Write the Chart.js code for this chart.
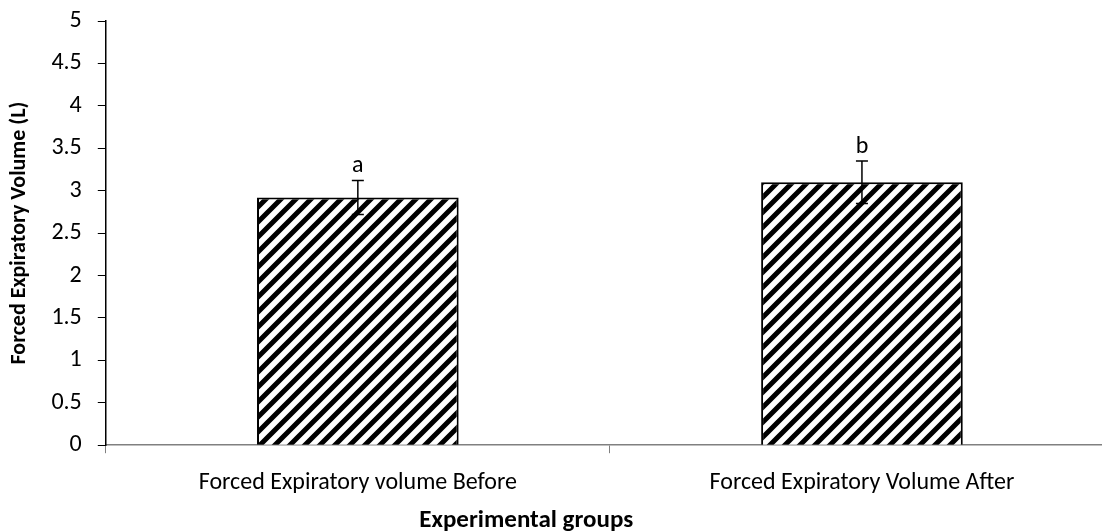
<!DOCTYPE html>
<html>
<head>
<meta charset="utf-8">
<script src="https://cdn.jsdelivr.net/npm/chart.js@4/dist/chart.umd.min.js"></script>
<style>
  html, body { margin: 0; padding: 0; background: #fff; overflow: hidden; }
  #wrap { width: 1114px; height: 531px; }
</style>
</head>
<body>
<div id="wrap"><canvas id="chart"></canvas></div>
<script>
// dados
const categories = ['Forced Expiratory volume Before', 'Forced Expiratory Volume After'];
const meanValues = [2.92, 3.10];
const errorValues = [0.2, 0.25];
const groupLetters = ['a', 'b'];
const yTicks = [0, 0.5, 1, 1.5, 2, 2.5, 3, 3.5, 4, 4.5, 5];
const xTitle = 'Experimental groups';

const FONT = 'Carlito, Calibri, "Liberation Sans Narrow", "Open Sans", sans-serif';

// padrão de listras diagonais
function makeHatch() {
    const size = 15;
    const c = document.createElement('canvas');
    c.width = size; c.height = size;
    const g = c.getContext('2d');
    g.fillStyle = '#fff';
    g.fillRect(0, 0, size, size);
    g.strokeStyle = '#000';
    g.lineWidth = 5;
    g.beginPath();
    g.moveTo(-size, size * 2); g.lineTo(size * 2, -size);
    g.moveTo(-size, size); g.lineTo(size, -size);
    g.moveTo(0, size * 2); g.lineTo(size * 2, 0);
    g.stroke();
    return g.createPattern(c, 'repeat');
}

// barras de erro, letras acima das barras e título do eixo x
const errorBarPlugin = {
    id: 'errorBars',
    afterDatasetsDraw(chart) {
        const ctx = chart.ctx;
        const yScale = chart.scales.y;
        const meta = chart.getDatasetMeta(0);
        ctx.save();
        meta.data.forEach((bar, i) => {
            const top = yScale.getPixelForValue(meanValues[i] + errorValues[i]);
            const bottom = yScale.getPixelForValue(meanValues[i] - errorValues[i]);
            ctx.strokeStyle = '#000';
            ctx.lineWidth = 1.5;
            ctx.beginPath();
            ctx.moveTo(bar.x, top); ctx.lineTo(bar.x, bottom);
            ctx.moveTo(bar.x - 6, top); ctx.lineTo(bar.x + 6, top);
            ctx.moveTo(bar.x - 6, bottom); ctx.lineTo(bar.x + 6, bottom);
            ctx.stroke();
            ctx.fillStyle = '#000';
            ctx.font = '24px ' + FONT;
            ctx.textAlign = 'center';
            ctx.textBaseline = 'bottom';
            ctx.fillText(groupLetters[i], bar.x, top - 2);
        });
        // título do eixo x, centrado na figura como no original
        ctx.font = 'bold 25px ' + FONT;
        ctx.textAlign = 'center';
        ctx.textBaseline = 'middle';
        ctx.fillText(xTitle, chart.chartArea.left + (chart.chartArea.right - chart.chartArea.left) * 0.417, chart.height - 10);
        ctx.restore();
    }
};

document.addEventListener('DOMContentLoaded', () => {
    const ctx = document.getElementById('chart').getContext('2d');
    new Chart(ctx, {
        type: 'bar',
        data: {
            labels: categories,
            datasets: [{
                data: meanValues,
                backgroundColor: makeHatch(),
                borderColor: '#000',
                borderWidth: 2,
                barPercentage: 0.8,
                categoryPercentage: 0.5
            }]
        },
        options: {
            responsive: true,
            maintainAspectRatio: false,
            animation: false,
            layout: { padding: { top: 1, right: 0, left: 2, bottom: 19 } },
            plugins: { legend: { display: false }, tooltip: { enabled: false } },
            scales: {
                x: {
                    grid: { offset: true, drawOnChartArea: false, tickLength: 8, color: '#808080' },
                    border: { color: '#808080', width: 1.5 },
                    ticks: { color: '#000', font: { family: FONT, size: 24 }, padding: 15 }
                },
                y: {
                    min: 0,
                    max: 5,
                    afterBuildTicks: axis => { axis.ticks = yTicks.map(v => ({ value: v })); },
                    afterFit: axis => { axis.paddingTop = 21; },
                    grid: { drawOnChartArea: false, tickLength: 8, color: '#000' },
                    border: { color: '#000', width: 1.5 },
                    ticks: { color: '#000', font: { family: FONT, size: 24 }, padding: 16, callback: v => String(v) },
                    title: { display: true, text: 'Forced Expiratory Volume (L)', color: '#000', font: { family: FONT, size: 22, weight: 'bold' }, padding: { bottom: 3 } }
                }
            }
        },
        plugins: [errorBarPlugin]
    });
});
</script>
</body>
</html>
